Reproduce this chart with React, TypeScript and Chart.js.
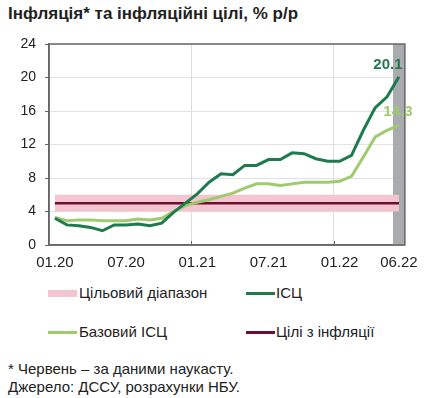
import React, { useEffect, useRef } from "react";
import { Chart, registerables } from "chart.js";
Chart.register(...registerables);

const months = [
  "01.20","02.20","03.20","04.20","05.20","06.20","07.20","08.20","09.20","10.20","11.20","12.20",
  "01.21","02.21","03.21","04.21","05.21","06.21","07.21","08.21","09.21","10.21","11.21","12.21",
  "01.22","02.22","03.22","04.22","05.22","06.22",
];
const shownTicks = ["01.20", "07.20", "01.21", "07.21", "01.22", "06.22"];
const yearStartTicks = ["01.21", "01.22"];

const cpi = [3.2, 2.4, 2.3, 2.1, 1.7, 2.4, 2.4, 2.5, 2.3, 2.6, 3.9, 5.0,
  6.1, 7.5, 8.5, 8.4, 9.5, 9.5, 10.2, 10.2, 11.0, 10.9, 10.3, 10.0,
  10.0, 10.7, 13.7, 16.4, 17.7, 20.1];
const coreCpi = [3.3, 2.9, 3.0, 3.0, 2.9, 2.9, 2.9, 3.1, 3.0, 3.2, 4.0, 4.7,
  5.1, 5.4, 5.8, 6.2, 6.8, 7.3, 7.3, 7.1, 7.3, 7.5, 7.5, 7.5,
  7.6, 8.2, 10.5, 12.9, 13.7, 14.3];
const targetLow = months.map(() => 4);
const targetHigh = months.map(() => 6);
const target = months.map(() => 5);

const C_CPI = "#1f7a4d";
const C_CORE = "#9dcb6e";
const C_BAND = "#f4c5d0";
const C_TARGET = "#6a0f30";
const C_GRAY = "#a9abae";
const C_AXIS = "#666666";
const FONT = "'Liberation Sans', Arial, sans-serif";

const extrasPlugin = {
  id: "extras",
  beforeDatasetsDraw(chart: any) {
    const { ctx, chartArea, scales } = chart;
    const x = scales.x;
    const w = x.getPixelForValue(1) - x.getPixelForValue(0);
    const last = months.length - 1;
    const left = x.getPixelForValue(last) - w / 2;
    ctx.save();
    ctx.fillStyle = C_GRAY;
    ctx.fillRect(left, chartArea.top, chartArea.right - left, chartArea.bottom - chartArea.top);
    ctx.strokeStyle = C_AXIS;
    ctx.lineWidth = 1;
    yearStartTicks.forEach((m) => {
      const i = months.indexOf(m);
      const px = Math.round(x.getPixelForValue(i) - w / 2) + 0.5;
      ctx.beginPath();
      ctx.moveTo(px, chartArea.bottom);
      ctx.lineTo(px, chartArea.bottom - 4);
      ctx.stroke();
    });
    ctx.restore();
  },
  afterDatasetsDraw(chart: any) {
    const { ctx, chartArea } = chart;
    ctx.save();
    ctx.strokeStyle = C_AXIS;
    ctx.lineWidth = 1.5;
    ctx.strokeRect(chartArea.left, chartArea.top, chartArea.right - chartArea.left, chartArea.bottom - chartArea.top);
    ctx.font = `bold 15px ${FONT}`;
    ctx.textAlign = "center";
    ctx.textBaseline = "middle";
    const m1 = chart.getDatasetMeta(3);
    const p1 = m1.data[m1.data.length - 1];
    ctx.fillStyle = C_CPI;
    ctx.fillText(cpi[cpi.length - 1].toFixed(1), p1.x - 11, p1.y - 12);
    const m2 = chart.getDatasetMeta(4);
    const p2 = m2.data[m2.data.length - 1];
    ctx.fillStyle = C_CORE;
    ctx.fillText(coreCpi[coreCpi.length - 1].toFixed(1), p2.x - 1, p2.y - 13);
    ctx.restore();
  },
};

export default function App() {
  const ref = useRef<HTMLCanvasElement>(null);
  useEffect(() => {
    const chart = new Chart(ref.current!, {
      type: "line",
      data: {
        labels: months,
        datasets: [
          { label: "low", data: targetLow, borderWidth: 0, borderColor: "transparent", pointRadius: 0, fill: false, order: 10 },
          { label: "Цільовий діапазон", data: targetHigh, borderWidth: 0, borderColor: "transparent", backgroundColor: C_BAND, pointRadius: 0, fill: "-1", order: 9 },
          { label: "Цілі з інфляції", data: target, borderColor: C_TARGET, borderWidth: 2.5, pointRadius: 0, order: 3 },
          { label: "ІСЦ", data: cpi, borderColor: C_CPI, borderWidth: 3, pointRadius: 0, order: 1 },
          { label: "Базовий ІСЦ", data: coreCpi, borderColor: C_CORE, borderWidth: 3, pointRadius: 0, order: 2 },
        ],
      },
      options: {
        responsive: false,
        animation: false,
        devicePixelRatio: 1,
        layout: { padding: { left: 0, right: 17.5, top: 44, bottom: 0 } },
        plugins: { legend: { display: false }, tooltip: { enabled: false }, title: { display: false } },
        scales: {
          x: {
            type: "category",
            offset: true,
            afterFit: (s: any) => { s.height = 35; },
            grid: {
              offset: true,
              drawTicks: false,
              color: (c: any) => (c.index === 12 || c.index === 24 ? "#dcdcdc" : "transparent"),
            },
            border: { display: true, color: C_AXIS, width: 1.5 },
            ticks: {
              autoSkip: false,
              maxRotation: 0,
              padding: 9,
              color: "#222",
              font: { family: FONT, size: 15 },
              callback: (_v: any, i: number) => (shownTicks.includes(months[i]) ? months[i] : ""),
            },
          },
          y: {
            min: 0,
            max: 24,
            afterFit: (s: any) => { s.width = 49; },
            grid: { color: "#e2e2e2", tickColor: C_AXIS, tickLength: 4 },
            border: { display: true, color: C_AXIS, width: 1.5 },
            ticks: { stepSize: 4, padding: 9, color: "#222", font: { family: FONT, size: 14 } },
          },
        },
      },
      plugins: [extrasPlugin],
    });
    return () => chart.destroy();
  }, []);

  const txt: React.CSSProperties = { fontFamily: FONT, fontSize: 15, color: "#222", position: "absolute", whiteSpace: "nowrap", lineHeight: "18px" };
  return (
    <div style={{ position: "absolute", left: 0, top: 0, width: 427, height: 398, background: "#fff" }}>
      <div style={{ ...txt, left: 8, top: 4, fontSize: 17, fontWeight: "bold", lineHeight: "20px" }}>
        Інфляція* та інфляційні цілі, % р/р
      </div>
      <canvas ref={ref} width={427} height={280} style={{ position: "absolute", left: 0, top: 0 }} />
      <div style={{ position: "absolute", left: 48, top: 290, width: 29, height: 7, background: C_BAND }} />
      <div style={{ ...txt, left: 79, top: 284 }}>Цільовий діапазон</div>
      <div style={{ position: "absolute", left: 246, top: 292, width: 29, height: 3, background: C_CPI }} />
      <div style={{ ...txt, left: 276, top: 284 }}>ІСЦ</div>
      <div style={{ position: "absolute", left: 48, top: 331, width: 29, height: 3, background: C_CORE }} />
      <div style={{ ...txt, left: 79, top: 323 }}>Базовий ІСЦ</div>
      <div style={{ position: "absolute", left: 246, top: 331, width: 29, height: 3, background: C_TARGET }} />
      <div style={{ ...txt, left: 276, top: 323 }}>Цілі з інфляції</div>
      <div style={{ ...txt, left: 8, top: 360 }}>* Червень – за даними наукасту.</div>
      <div style={{ ...txt, left: 8, top: 378 }}>Джерело: ДССУ, розрахунки НБУ.</div>
    </div>
  );
}
